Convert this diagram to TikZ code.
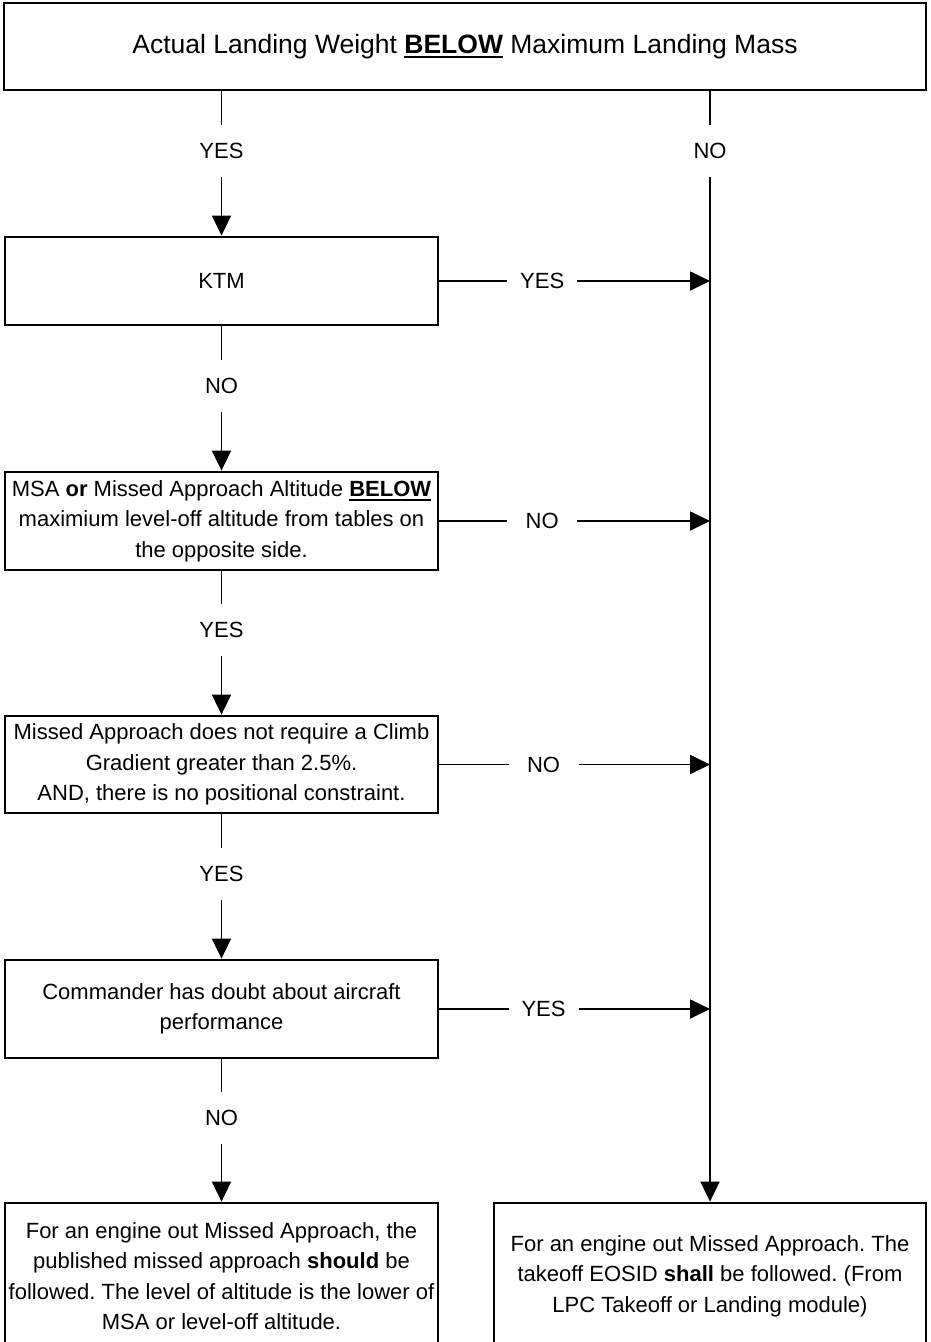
\documentclass[tikz,border=0pt]{standalone}
\usepackage{fontspec}
\setmainfont{Liberation Sans}
\usetikzlibrary{arrows.meta}
\frenchspacing
\newsavebox\ulbox
\newcommand\thul[2][1.8pt]{\sbox\ulbox{#2}\rlap{\rule[-5pt]{\wd\ulbox}{#1}}\usebox{\ulbox}}
\begin{document}
\begin{tikzpicture}[x=1pt,y=-1pt,
  box/.style={draw=black, line width=2.8pt, rectangle, inner sep=0pt, align=center,
    font=\fontsize{22}{30.5}\selectfont},
  lbl/.style={fill=white, inner sep=0pt, minimum width=70pt, minimum height=52pt,
    font=\fontsize{22}{26}\selectfont},
  vl/.style={lbl, pos=0.41},
  arr/.style={line width=1.8pt, -{Triangle[length=20pt,width=19pt]}}]
\useasboundingbox (0,0) rectangle (930,1342);
\clip (0,0) rectangle (930,1342);
\fill[white] (0,0) rectangle (930,1342);

\node[box, minimum width=922pt, minimum height=87pt, font=\fontsize{26.5}{30}\selectfont]
  (top) at (465,46.5) {Actual Landing Weight \thul[2.2pt]{\textbf{BELOW}} Maximum Landing Mass};
\node[box, minimum width=433pt, minimum height=88pt] (ktm) at (221.5,281) {KTM};
\node[box, minimum width=433pt, minimum height=98pt] (msa) at (221.5,521)
  {MSA \textbf{or} Missed Approach Altitude \thul{\textbf{BELOW}}\\ maximium level-off altitude from tables on\\ the opposite side.};
\node[box, minimum width=433pt, minimum height=97pt] (ma) at (221.5,764.5)
  {Missed Approach does not require a Climb\\ Gradient greater than 2.5\%.\\ AND, there is no positional constraint.};
\node[box, minimum width=433pt, minimum height=98pt] (cmd) at (221.5,1009)
  {Commander has doubt about aircraft\\ performance};
\node[box, minimum width=433pt, minimum height=146pt] (outl) at (221.5,1276)
  {For an engine out Missed Approach, the\\ published missed approach \textbf{should} be\\ followed. The level of altitude is the lower of\\ MSA or level-off altitude.};
\node[box, minimum width=432pt, minimum height=146pt] (outr) at (710,1276)
  {For an engine out Missed Approach. The\\ takeoff EOSID \textbf{shall} be followed. (From\\ LPC Takeoff or Landing module)};

% left column
\draw[arr] (top.south -| ktm.north) -- node[vl]{YES} (ktm.north);
\draw[arr] (ktm.south) -- node[vl]{NO} (msa.north);
\draw[arr] (msa.south) -- node[vl]{YES} (ma.north);
\draw[arr] (ma.south) -- node[vl]{YES} (cmd.north);
\draw[arr] (cmd.south) -- node[vl]{NO} (outl.north);
% right column
\draw[arr] (top.south -| outr.north) -- node[lbl, pos=0.054]{NO} (outr.north);
% horizontal
\draw[arr] (ktm.east) -- node[lbl, pos=0.38]{YES} (ktm.east -| outr.north);
\draw[arr] (msa.east) -- node[lbl, pos=0.38]{NO} (msa.east -| outr.north);
\draw[arr] (ma.east) -- node[lbl, pos=0.385]{NO} (ma.east -| outr.north);
\draw[arr] (cmd.east) -- node[lbl, pos=0.385]{YES} (cmd.east -| outr.north);
\end{tikzpicture}
\end{document}
